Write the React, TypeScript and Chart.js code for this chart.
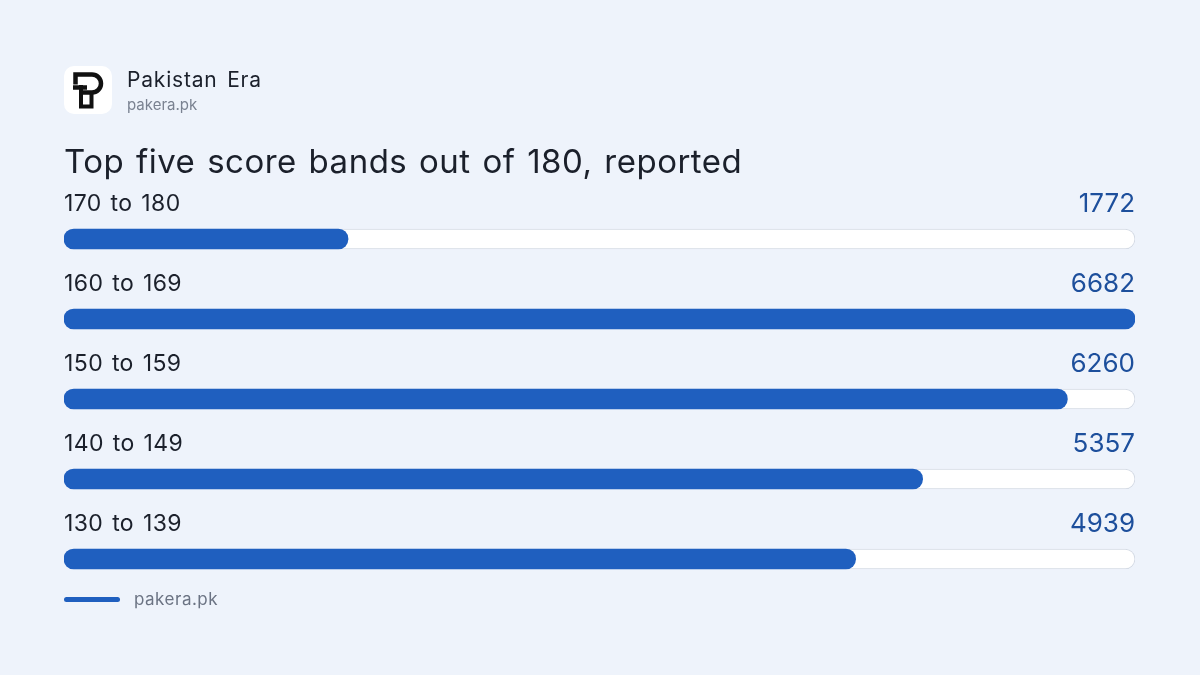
import React, { useEffect, useRef } from "react";
import { Chart, registerables } from "chart.js";

Chart.register(...registerables);

const categories = ["170 to 180", "160 to 169", "150 to 159", "140 to 149", "130 to 139"];
const values = [1772, 6682, 6260, 5357, 4939];
const scaleMax = 6682;
const trackValues = categories.map(() => scaleMax);
const seriesName = "pakera.pk";

const BLUE = "#1f5fbf";
const VALUE_BLUE = "#1d4f9c";
const BG = "#eef3fb";
const FONT = "Inter, 'Noto Sans', sans-serif";

const rowTextPlugin = {
  id: "rowText",
  afterDatasetsDraw(chart: any) {
    const ctx = chart.ctx;
    const meta = chart.getDatasetMeta(1);
    const area = chart.chartArea;
    ctx.save();
    meta.data.forEach((bar: any, i: number) => {
      const y = bar.y - 35;
      ctx.textBaseline = "middle";
      ctx.font = `400 23px ${FONT}`;
      ctx.fillStyle = "#1b202b";
      ctx.textAlign = "left";
      (ctx as any).letterSpacing = "0.4px";
      (ctx as any).wordSpacing = "2px";
      ctx.fillText(categories[i], area.left, y);
      ctx.font = `400 26px ${FONT}`;
      ctx.fillStyle = VALUE_BLUE;
      ctx.textAlign = "right";
      (ctx as any).letterSpacing = "0px";
      (ctx as any).wordSpacing = "0px";
      ctx.fillText(String(values[i]), area.right, y);
    });
    ctx.restore();
  },
};

function ChartCanvas() {
  const ref = useRef<HTMLCanvasElement>(null);
  useEffect(() => {
    if (!ref.current) return;
    const chart = new Chart(ref.current, {
      type: "bar",
      data: {
        labels: categories,
        datasets: [
          {
            label: seriesName,
            data: values,
            backgroundColor: BLUE,
            borderWidth: 0,
            borderRadius: 10,
            borderSkipped: false,
            barThickness: 20,
            grouped: false,
          } as any,
          {
            label: "track",
            data: trackValues,
            backgroundColor: "#ffffff",
            borderColor: "#d5dbe5",
            borderWidth: 1,
            borderRadius: 10,
            borderSkipped: false,
            barThickness: 20,
            grouped: false,
          } as any,
        ],
      },
      options: {
        indexAxis: "y",
        animation: false,
        responsive: false,
        maintainAspectRatio: false,
        layout: { padding: { left: 64, right: 65, top: 199, bottom: 76 } },
        scales: {
          x: { display: false, min: 0, max: scaleMax },
          y: { display: false },
        },
        plugins: {
          legend: { display: false },
          tooltip: { enabled: false },
        },
      },
      plugins: [rowTextPlugin],
    });
    return () => chart.destroy();
  }, []);
  return (
    <canvas
      ref={ref}
      width={1200}
      height={675}
      style={{ position: "absolute", left: 0, top: 0, width: 1200, height: 675 }}
    />
  );
}

export default function App() {
  return (
    <div
      style={{
        position: "fixed",
        left: 0,
        top: 0,
        width: 1200,
        height: 675,
        background: BG,
        fontFamily: FONT,
        overflow: "hidden",
      }}
    >
      <ChartCanvas />
      <div
        style={{
          position: "absolute",
          left: 64,
          top: 66,
          width: 48,
          height: 48,
          borderRadius: 10,
          background: "#ffffff",
        }}
      >
        <svg width="48" height="48" viewBox="0 0 48 48">
          <path
            d="M11.5 18.5 V8.5 H28 a9 9 0 0 1 0 18 H18.5"
            fill="none"
            stroke="#111"
            strokeWidth="4.5"
          />
          <path d="M9 21.5 H23" fill="none" stroke="#111" strokeWidth="4.5" />
          <path d="M17 19 V40.5 H27.5 V27" fill="none" stroke="#111" strokeWidth="4" />
        </svg>
      </div>
      <div
        style={{
          position: "absolute",
          left: 127,
          top: 66,
          fontSize: 21,
          color: "#1b202b",
          letterSpacing: 0.8,
          wordSpacing: 3,
          lineHeight: "28px",
        }}
      >
        Pakistan Era
      </div>
      <div
        style={{
          position: "absolute",
          left: 127,
          top: 95,
          fontSize: 15,
          color: "#7a8291",
          lineHeight: "20px",
        }}
      >
        pakera.pk
      </div>
      <div
        style={{
          position: "absolute",
          left: 64,
          top: 140,
          fontSize: 33,
          color: "#1b202b",
          lineHeight: "42px",
          letterSpacing: 0.5,
          wordSpacing: 2,
          whiteSpace: "nowrap",
        }}
      >
        Top five score bands out of 180, reported
      </div>
      <div style={{ position: "absolute", left: 64, top: 589, display: "flex", alignItems: "center", height: 20 }}>
        <div style={{ width: 56, height: 5, borderRadius: 3, background: BLUE }} />
        <div style={{ marginLeft: 14, fontSize: 17, letterSpacing: 0.5, color: "#6b7383" }}>{seriesName}</div>
      </div>
    </div>
  );
}
